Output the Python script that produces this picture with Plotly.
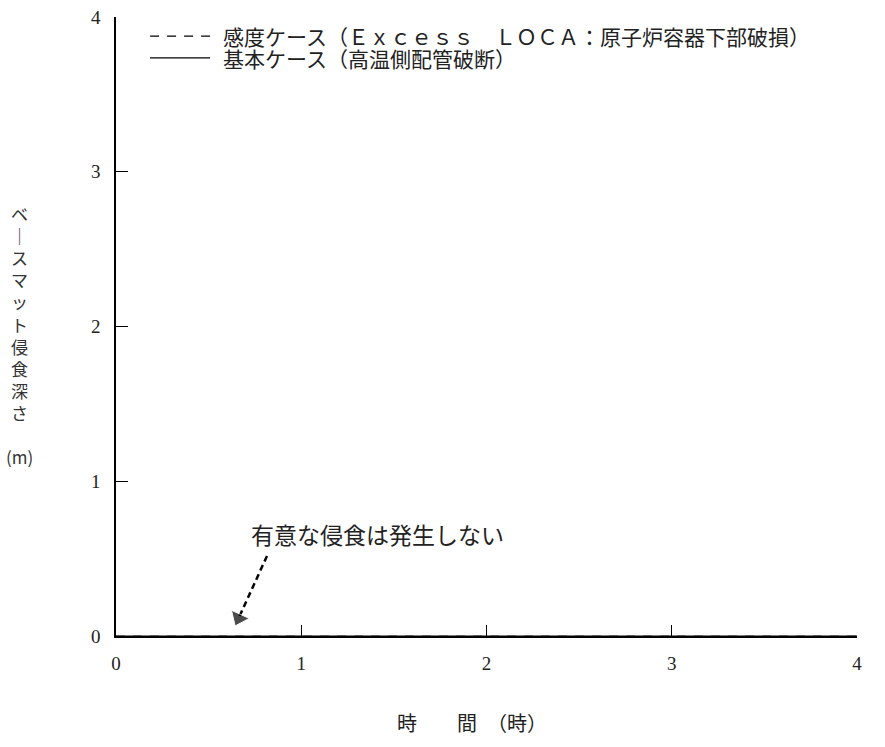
import plotly.graph_objects as go

# time (h) and basemat erosion depth (m)
time_h = [0, 1, 2, 3, 4]
depth_sensitivity = [0, 0, 0, 0, 0]
depth_base = [0, 0, 0, 0, 0]

legend_names = ["感度ケース（Ｅｘｃｅｓｓ　ＬＯＣＡ：原子炉容器下部破損）",
                "基本ケース（高温側配管破断）"]
tick_vals = [0, 1, 2, 3, 4]

note_text = "有意な侵食は発生しない"
arrow_x = [0.815, 0.662]
arrow_y = [0.517, 0.115]

y_label = ["ベ", "｜", "ス", "マ", "ッ", "ト", "侵", "食", "深", "さ", "", "(m)"]

JP = "Noto Sans CJK JP"
SERIF = "Liberation Serif"

fig = go.Figure()
fig.add_trace(go.Scatter(x=time_h, y=depth_sensitivity, mode="lines",
                         name=legend_names[0], showlegend=False,
                         line=dict(color="#999999", width=1.5, dash="9px,8px")))
fig.add_trace(go.Scatter(x=time_h, y=depth_base, mode="lines",
                         name=legend_names[1], showlegend=False,
                         line=dict(color="black", width=1.2)))
# dashed arrow pointing at the curves
fig.add_trace(go.Scatter(x=arrow_x, y=arrow_y, mode="lines+markers",
                         showlegend=False,
                         line=dict(color="black", width=2.5, dash="6px,4px"),
                         marker=dict(symbol=["circle", "triangle-up"], size=[0, 17],
                                     angleref="previous", color="black")))

# legend drawn by hand (long line samples like the original)
legend_rows = [(0.969, "9px,8px"), (0.934, "solid")]
for (ypos, dash), name in zip(legend_rows, legend_names):
    fig.add_shape(type="line", xref="paper", yref="paper",
                  x0=0.046, x1=0.127, y0=ypos, y1=ypos,
                  line=dict(color="black", width=1.2, dash=dash))
    fig.add_annotation(x=0.142, y=ypos, xref="paper", yref="paper", text=name,
                       showarrow=False, xanchor="left", yanchor="middle",
                       font=dict(family=JP, size=21, color="#222"))

fig.add_annotation(x=0.72, y=0.66, xref="x", yref="y", text=note_text,
                   showarrow=False, xanchor="left", yanchor="middle",
                   font=dict(family=JP, size=23, color="#222"))

fig.add_annotation(x=-0.13, y=0.487, xref="paper", yref="paper",
                   text="<br>".join(y_label), showarrow=False,
                   align="center", xanchor="center", yanchor="middle",
                   font=dict(family=JP, size=17, color="#333"))
fig.add_annotation(x=0.48, y=-0.139, xref="paper", yref="paper",
                   text="時　　間　（時）", showarrow=False,
                   xanchor="center", yanchor="middle",
                   font=dict(family=JP, size=20, color="#222"))

fig.update_xaxes(range=[0, 4], tickvals=tick_vals, ticks="inside", ticklen=11,
                 tickwidth=1.2, tickcolor="black", showline=True, linecolor="black",
                 linewidth=2, showgrid=False, zeroline=False, automargin=False,
                 ticklabelstandoff=9,
                 tickfont=dict(family=SERIF, size=19, color="#222"))
fig.update_yaxes(range=[0, 4], tickvals=tick_vals, ticks="inside", ticklen=12,
                 tickwidth=1.2, tickcolor="black", showline=True, linecolor="black",
                 linewidth=1.5, showgrid=False, zeroline=False, automargin=False,
                 ticklabelstandoff=10,
                 tickfont=dict(family=SERIF, size=19, color="#222"))

fig.update_layout(width=885, height=747, plot_bgcolor="white", paper_bgcolor="white",
                  margin=dict(l=116, r=28, t=17, b=111), showlegend=False)

# drop the default 8px body margin so the figure sits at the page corner
fig.write_html("out.html", config={"displayModeBar": False},
               post_script="document.body.style.margin='0';")
